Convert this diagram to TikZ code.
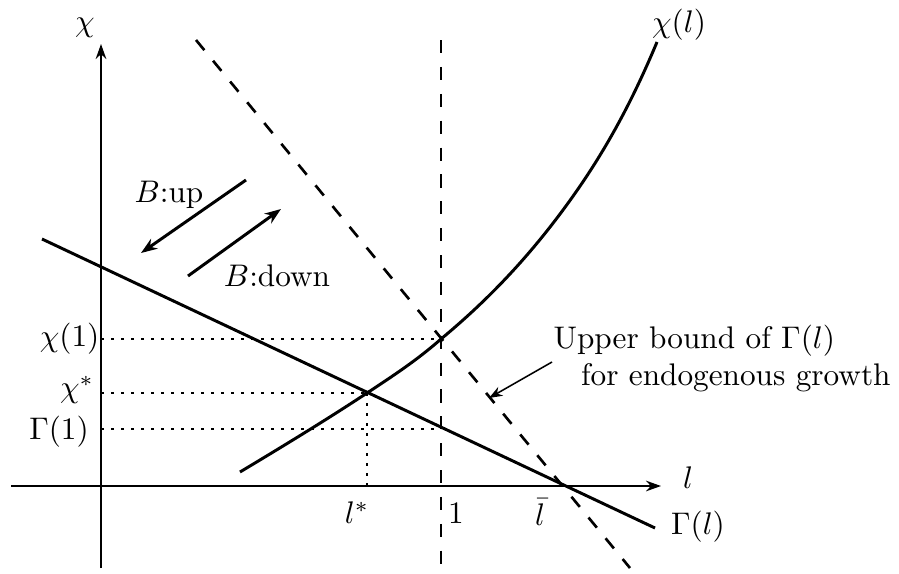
\documentclass[tikz,border=0pt]{standalone}
\usetikzlibrary{arrows.meta}
\begin{document}
\begin{tikzpicture}[x=0.32pt,y=-0.32pt,
  axis/.style={line width=0.65pt,-{Stealth[length=4.8pt,width=3.4pt]}},
  curve/.style={line width=0.95pt},
  dashline/.style={line width=0.85pt,dash pattern=on 4.2pt off 4.4pt},
  dotline/.style={line width=0.65pt,dash pattern=on 0.85pt off 2.35pt},
  barrow/.style={line width=0.95pt,-{Stealth[length=5.2pt,width=3.8pt]}},
  lab/.style={inner sep=0pt}]
\useasboundingbox (0,0) rectangle (899,573);
% coordinates
\coordinate (yb) at (101,568);
\coordinate (yt) at (101,44);
\coordinate (xl) at (11,486);
\coordinate (xr) at (661,486);
\coordinate (gs) at (42,239);
\coordinate (ge) at (655,528);
\coordinate (ds) at (196,40);
\coordinate (de) at (630,568);
\coordinate (vs) at (441,40);
\coordinate (ve) at (441,570);
\coordinate (eq) at (367,393);
\coordinate (c1) at (441,339);
\coordinate (g1) at (441,429);
\coordinate (ax1) at (101,339);
\coordinate (axs) at (101,393);
\coordinate (axg) at (101,429);
\coordinate (lx) at (367,486);
\coordinate (cs) at (240,472);
\coordinate (cm) at (563,210);
\coordinate (ce) at (657,42);
% axes
\draw[axis] (yb) -- (yt);
\draw[axis] (xl) -- (xr);
% dotted guides
\draw[dotline] (ax1) -- (c1);
\draw[dotline] (axs) -- (eq);
\draw[dotline] (axg) -- (g1);
\draw[dotline] (eq) -- (lx);
% lines
\draw[curve] (gs) -- (ge);
\draw[dashline] (ds) -- (de);
\draw[dashline] (vs) -- (ve);
\draw[curve] (cs) .. controls (282.3,446.6) and (324.7,420.9) .. (eq)
  .. controls (392,376.5) and (417,360.25) .. (c1)
  .. controls (482.3,304.7) and (522.7,264.4) .. (cm)
  .. controls (594.3,167.7) and (625.7,117.2) .. (ce);
% labels
\node[lab] (chi) at (85,28) {$\chi$};
\node[lab] (chil) at (679,25) {$\chi(l)$};
\node[lab] (lab_l) at (688,478) {$l$};
\node[lab] (gaml) at (698,527) {$\Gamma(l)$};
\node[lab,anchor=east] (chi1) at (100,339) {$\chi(1)$};
\node[lab] (chis) at (77,390) {$\chi^*$};
\node[lab] (gam1) at (59,432) {$\Gamma(1)$};
\node[lab] (ls) at (357,513) {$l^*$};
\node[lab] (one) at (456,513) {$1$};
\node[lab] (lbar) at (540,512) {$\bar{l}$};
\node[lab] (bup) at (169,195) {$B$:up};
\node[lab] (bdown) at (277,276) {$B$:down};
\node[lab,anchor=north west,align=left] (ub) at (553,324) {Upper bound of $\Gamma(l)$\\\hspace{8.8pt}for endogenous growth};
% B arrows
\coordinate (bu1) at (246,180);
\coordinate (bu2) at (141,253);
\coordinate (bd1) at (188,276);
\coordinate (bd2) at (281,209);
\draw[barrow] (bu1) -- (bu2);
\draw[barrow] (bd1) -- (bd2);
% annotation arrow
\coordinate (an1) at (552,362);
\coordinate (an2) at (489,398);
\draw[line width=0.5pt,-{Stealth[length=4.3pt,width=3.2pt]}] (an1) -- (an2);
\end{tikzpicture}
\end{document}
